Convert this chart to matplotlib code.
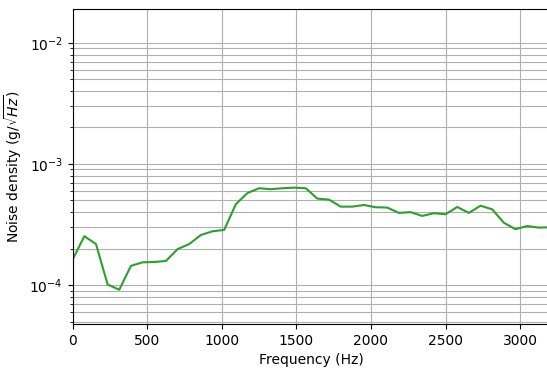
import numpy as np
import matplotlib
matplotlib.use('Agg')
import matplotlib.pyplot as plt

# frequency bins, 78.125 Hz apart
freq = np.arange(42) * 78.125
noise = [1.63e-4, 2.53e-4, 2.18e-4, 1.01e-4, 9.15e-5, 1.44e-4, 1.54e-4, 1.55e-4,
         1.58e-4, 1.98e-4, 2.18e-4, 2.59e-4, 2.78e-4, 2.85e-4, 4.65e-4, 5.75e-4,
         6.3e-4, 6.18e-4, 6.3e-4, 6.37e-4, 6.3e-4, 5.17e-4, 5.07e-4, 4.44e-4,
         4.44e-4, 4.58e-4, 4.39e-4, 4.36e-4, 3.94e-4, 4.0e-4, 3.72e-4, 3.92e-4,
         3.84e-4, 4.41e-4, 3.94e-4, 4.52e-4, 4.22e-4, 3.27e-4, 2.89e-4, 3.07e-4,
         2.98e-4, 3.0e-4]

fig = plt.figure(figsize=(5.47, 3.68), dpi=100)
ax = fig.add_axes([0.1329, 0.1196, 0.8725, 0.8551])
ax.plot(freq, noise, '-', color='tab:green')
ax.set_yscale('log')
ax.set_xlim(0, 3200)
ax.set_ylim(4.77e-5, 1.89e-2)
ax.grid(True, which='major', color='#b0b0b0')
ax.grid(True, which='minor', axis='y', color='#b0b0b0')
ax.set_xlabel('Frequency (Hz)')
ax.set_ylabel(r'Noise density (g/$\sqrt{Hz}$)')
fig.savefig('out.png', dpi=100)
